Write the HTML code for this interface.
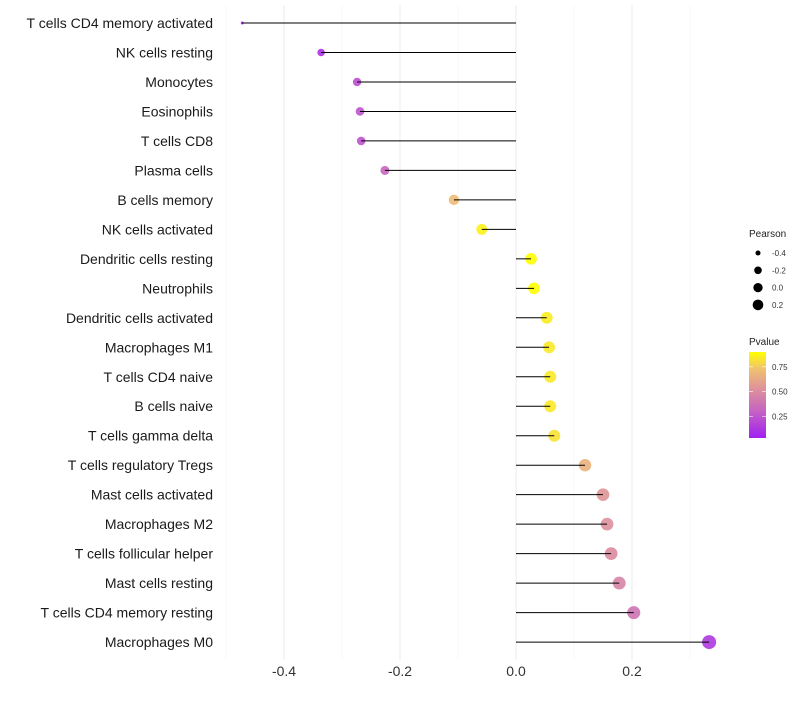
<!DOCTYPE html>
<html><head><meta charset="utf-8"><style>
body{margin:0;background:#fff;font-family:"Liberation Sans",sans-serif}
</style></head><body>
<svg id="c" width="800" height="700" xmlns="http://www.w3.org/2000/svg">
<defs><linearGradient id="pg" x1="0" y1="1" x2="0" y2="0">
<stop offset="0" stop-color="#A020F0"/><stop offset="0.3" stop-color="#C460C4"/><stop offset="0.55" stop-color="#DC8E9E"/><stop offset="0.8" stop-color="#F0C070"/><stop offset="1" stop-color="#FFFF00"/>
</linearGradient></defs>
<g id="grid"></g><g id="pts"></g><g id="stems"></g>
</svg>
<script>
const categories=["T cells CD4 memory activated","NK cells resting","Monocytes","Eosinophils","T cells CD8","Plasma cells","B cells memory","NK cells activated","Dendritic cells resting","Neutrophils","Dendritic cells activated","Macrophages M1","T cells CD4 naive","B cells naive","T cells gamma delta","T cells regulatory  Tregs ","Mast cells activated","Macrophages M2","T cells follicular helper","Mast cells resting","T cells CD4 memory resting","Macrophages M0"];
const pearson=[-0.472,-0.336,-0.274,-0.269,-0.267,-0.226,-0.107,-0.059,0.026,0.031,0.053,0.057,0.059,0.059,0.066,0.119,0.150,0.157,0.164,0.178,0.203,0.333];
const pvalue=[0.03,0.1,0.22,0.24,0.24,0.32,0.7,0.86,0.92,0.92,0.85,0.84,0.84,0.84,0.82,0.66,0.54,0.52,0.5,0.46,0.38,0.13];
const xTicks=[-0.4,-0.2,0.0,0.2];
const xMinor=[-0.5,-0.3,-0.1,0.1,0.3];
const sizeLegend=[-0.4,-0.2,0.0,0.2];
const pTicks=[0.25,0.50,0.75];
const NS="http://www.w3.org/2000/svg";
const svg=document.getElementById('c');
const G=document.getElementById('grid'),P=document.getElementById('pts'),S=document.getElementById('stems');
const x=v=>516+v*580;
const y=i=>23+i*29.48;
const r=v=>{const t=Math.max(0,(v+0.472)/0.805);return 1.5+5.5*Math.sqrt(t);};
function mk(t,a,p){const e=document.createElementNS(NS,t);for(const k in a)e.setAttribute(k,a[k]);(p||svg).appendChild(e);return e;}
const stops=[[0,[160,32,240]],[0.3,[196,96,196]],[0.55,[220,142,158]],[0.8,[240,192,112]],[1,[255,255,0]]];
function col(p){let t=(p-0.03)/(0.9-0.03);t=Math.max(0,Math.min(1,t));for(let i=1;i<stops.length;i++){if(t<=stops[i][0]){const a=stops[i-1],b=stops[i],f=(t-a[0])/(b[0]-a[0]);return 'rgb('+a[1].map((c,j)=>Math.round(c+(b[1][j]-c)*f)).join(',')+')';}}return 'rgb(255,255,0)';}
xMinor.forEach(v=>{const l=mk('line',{x1:x(v),x2:x(v),y1:5,y2:660,stroke:'#f4f4f4','stroke-width':0.6},G);

});
xTicks.forEach(v=>{const l=mk('line',{x1:x(v),x2:x(v),y1:5,y2:660,stroke:'#ebebeb','stroke-width':1},G);


const t=mk('text',{x:x(v),y:676,'text-anchor':'middle','font-size':14,fill:'#333'});t.textContent=v.toFixed(1);

});
categories.forEach((c,i)=>{
const t=mk('text',{x:213,y:y(i)+5,'text-anchor':'end','font-size':14,fill:'#1a1a1a'});t.textContent=c;


const d=mk('circle',{cx:x(pearson[i]),cy:y(i),r:r(pearson[i]),fill:col(pvalue[i]),'fill-opacity':0.9},P);


const l=mk('line',{x1:x(0),x2:x(pearson[i]),y1:y(i),y2:y(i),stroke:'#000','stroke-width':1},S);


});
let t=mk('text',{x:749,y:237,'font-size':10,fill:'#222'});t.textContent='Pearson';


sizeLegend.forEach((v,i)=>{const yy=253+i*17.3;
const c=mk('circle',{cx:758,cy:yy,r:1.2+4.5*Math.sqrt((v+0.472)/0.805),fill:'#000'});


const tt=mk('text',{x:772,y:yy+3,'font-size':8,fill:'#333'});tt.textContent=v.toFixed(1);

});
t=mk('text',{x:749,y:345,'font-size':10,fill:'#222'});t.textContent='Pvalue';


const bar=mk('rect',{x:749,y:352,width:17,height:86,fill:'url(#pg)'});


const py=p=>438-(p-0.03)/(0.9-0.03)*86;
pTicks.forEach(p=>{
const l=mk('line',{x1:749,x2:753,y1:py(p),y2:py(p),stroke:'#fff','stroke-width':0.6});


const l2=mk('line',{x1:762,x2:766,y1:py(p),y2:py(p),stroke:'#fff','stroke-width':0.6});


const tt=mk('text',{x:772,y:py(p)+3,'font-size':8,fill:'#333'});tt.textContent=p.toFixed(2);

});
</script>
</body></html>
